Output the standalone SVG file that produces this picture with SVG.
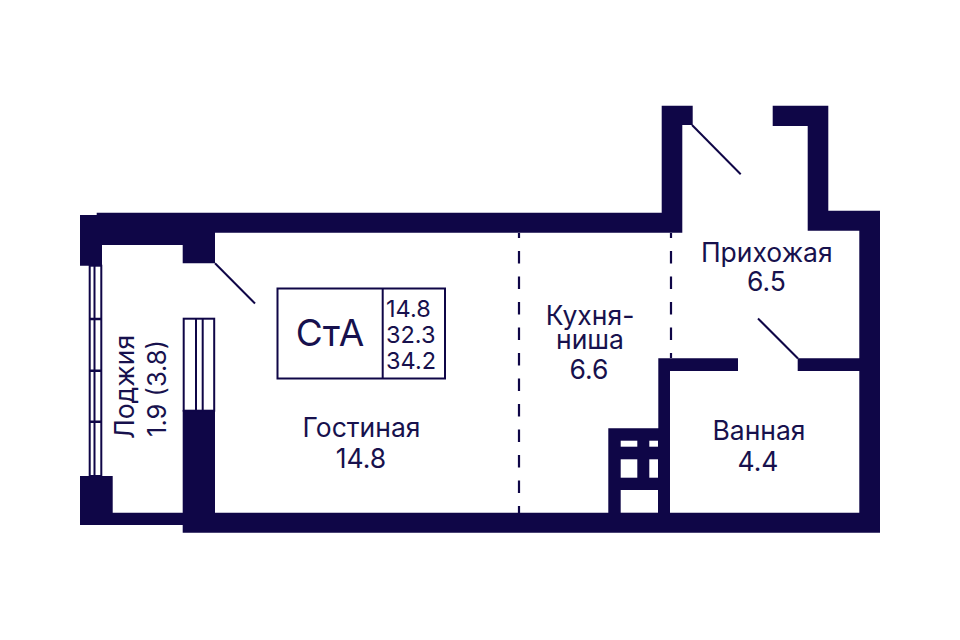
<svg xmlns="http://www.w3.org/2000/svg" width="960" height="640" viewBox="0 0 960 640">
<style>
.w{fill:#0f0647}
.h{fill:#fff}
.t{font-family:"Inter","Liberation Sans",sans-serif;font-size:26.500px;fill:#17114d;text-anchor:middle}
.n{font-family:"Inter","Liberation Sans",sans-serif;font-size:23.500px;fill:#17114d}
.l{fill:none;stroke:#0f0647;stroke-width:2}
.d{fill:none;stroke:#0f0647;stroke-width:2.200;stroke-dasharray:12.500 13;stroke-dashoffset:7.500}
.f{fill:none;stroke:#0f0647;stroke-width:2}
</style>
<rect width="960" height="640" fill="#fff"/>
<g id="walls">
<path class="w" d="M96.700 212.700H661.700V105.700H692.700V125H682.300V232.700H215V263.300H182.700V245H102V265.700H80V215H96.700Z"/>
<path class="w" d="M772.700 105.700H828.300V210.700H880V532.700H182.700V525H80V476H112.700V512.700H182.700V410H215V512.700H608.300V428.300H658.300V358.300H738V371H670V512.700H859.300V371H797.700V358.300H859.300V230.700H807.700V126H772.700Z"/>
<rect class="h" x="620.700" y="440.700" width="16.600" height="6"/>
<rect class="h" x="649.300" y="440.700" width="8.700" height="6"/>
<rect class="h" x="620.700" y="459.300" width="16.600" height="18.400"/>
<rect class="h" x="649.300" y="459.300" width="8.700" height="18.400"/>
<rect class="h" x="620.700" y="490" width="37.300" height="22.700"/>
</g>
<g id="window">
<rect class="f" x="89.700" y="265.700" width="11.600" height="210.300"/>
<path class="l" d="M94.500 265.700V476"/>
<path class="f" style="stroke-width:2.600" d="M89 319H102M89 370.700H102M89 421.700H102"/>
</g>
<g id="shaft">
<rect class="f" x="183.700" y="318.700" width="30.500" height="92"/>
<path class="f" d="M196 318.700V410M202.700 318.700V410"/>
</g>
<g id="connectors">
<path class="l" d="M215 263.300L255 303.500"/>
<path class="l" d="M692 125L740.700 174.300"/>
<path class="l" d="M758 318.500L798 358.500"/>
<path class="d" d="M519 233V513"/>
<path class="d" d="M671 233V358"/>
</g>
<g id="type-box">
<rect class="l" x="277.500" y="288.500" width="167.500" height="90"/>
<path class="l" d="M382.700 288.500V378.500"/>
<text class="t" x="330" y="346" style="font-size:37px">СтА</text>
<text class="n" x="386" y="317">14.8</text>
<text class="n" x="386" y="343">32.3</text>
<text class="n" x="386" y="368.500">34.2</text>
</g>
<g id="room-loggia"><text class="t" transform="translate(134 387) rotate(-90)">Лоджия</text><text class="t" style="font-size:25.500px" transform="translate(166 388.500) rotate(-90)">1.9 (3.8)</text></g>
<g id="room-living"><text class="t" x="361.500" y="437">Гостиная</text><text class="t" x="361" y="468">14.8</text></g>
<g id="room-kitchen"><text class="t" x="590" y="324.500">Кухня-</text><text class="t" x="590" y="349">ниша</text><text class="t" x="589" y="378.500">6.6</text></g>
<g id="room-hall"><text class="t" x="766.800" y="262">Прихожая</text><text class="t" x="766.500" y="291">6.5</text></g>
<g id="room-bath"><text class="t" x="759" y="440">Ванная</text><text class="t" x="758" y="470.500">4.4</text></g>
</svg>
